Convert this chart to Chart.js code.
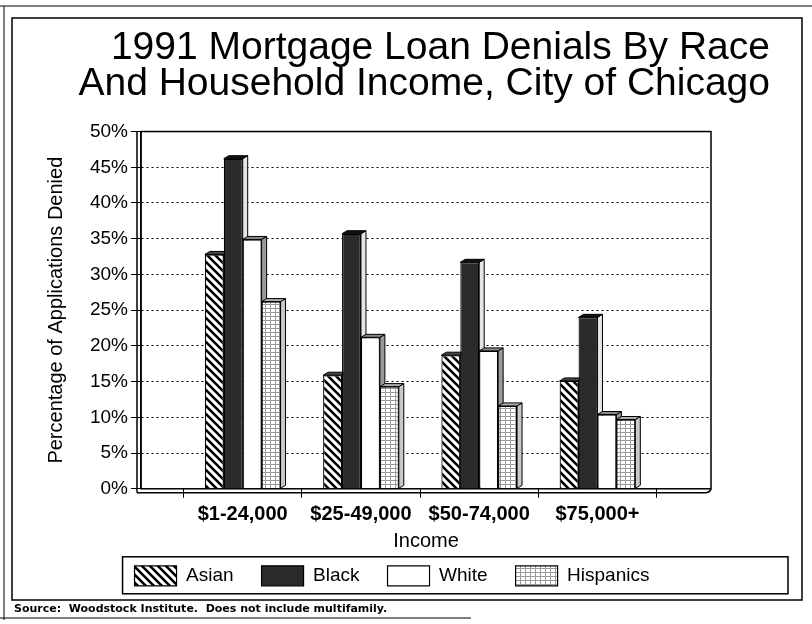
<!DOCTYPE html>
<html>
<head>
<meta charset="utf-8">
<script src="https://cdn.jsdelivr.net/npm/chart.js@4.4.1/dist/chart.umd.min.js"></script>
<style>
  html, body { margin: 0; padding: 0; background: #fff; }
  #wrap { width: 812px; height: 624px; }
</style>
</head>
<body>
<div id="wrap"><canvas id="chart"></canvas></div>
<script>
// Data
const incomeGroups = ["$1-24,000", "$25-49,000", "$50-74,000", "$75,000+"];
const asian = [32.8, 15.9, 18.7, 15.1];
const black = [46.2, 35.7, 31.7, 24.0];
const white = [34.9, 21.2, 19.3, 10.4];
const hispanics = [26.2, 14.3, 11.6, 9.7];
const pctTicks = [0, 5, 10, 15, 20, 25, 30, 35, 40, 45, 50];

// Fill patterns
function makePattern(w, h, draw) {
  const c = document.createElement("canvas");
  c.width = w;
  c.height = h;
  const g = c.getContext("2d");
  draw(g, w, h);
  return g.createPattern(c, "repeat");
}

const hatch = makePattern(8, 8, (g) => {
  g.fillStyle = "#fff";
  g.fillRect(0, 0, 8, 8);
  g.strokeStyle = "#000";
  g.lineWidth = 2.6;
  g.beginPath();
  g.moveTo(-2, -2); g.lineTo(10, 10);
  g.moveTo(-2, 6); g.lineTo(2, 10);
  g.moveTo(6, -2); g.lineTo(10, 2);
  g.stroke();
});

const gridFill = makePattern(5, 4, (g) => {
  g.fillStyle = "#fff";
  g.fillRect(0, 0, 5, 4);
  g.fillStyle = "#9a9a9a";
  g.fillRect(0, 0, 5, 1);
  g.fillRect(0, 0, 1, 4);
});

// 3D look of the bars: side + top faces, then the floor and frame
const DX = 5, DY = 3;
const sideFill = ["#666", "#e6e6e6", "#9a9a9a", "#c8c8c8"];
const topFill = ["#444", "#111", "#8a8a8a", "#b0b0b0"];

const bars3d = {
  id: "bars3d",
  beforeDatasetsDraw(chart) {
    const ctx = chart.ctx;
    ctx.save();
    ctx.strokeStyle = "#000";
    ctx.lineWidth = 1;
    chart.data.datasets.forEach((ds, i) => {
      chart.getDatasetMeta(i).data.forEach((bar) => {
        const { x, y, base, width } = bar.getProps(["x", "y", "base", "width"], true);
        const l = x - width / 2, r = x + width / 2;
        ctx.beginPath();
        ctx.moveTo(r, base);
        ctx.lineTo(r + DX, base - DY);
        ctx.lineTo(r + DX, y - DY);
        ctx.lineTo(r, y);
        ctx.closePath();
        ctx.fillStyle = sideFill[i];
        ctx.fill();
        ctx.stroke();
        ctx.beginPath();
        ctx.moveTo(l, y);
        ctx.lineTo(l + DX, y - DY);
        ctx.lineTo(r + DX, y - DY);
        ctx.lineTo(r, y);
        ctx.closePath();
        ctx.fillStyle = topFill[i];
        ctx.fill();
        ctx.stroke();
      });
    });
    ctx.restore();
  },
  afterDraw(chart) {
    const { ctx, chartArea: a, width, height } = chart;
    ctx.save();
    ctx.strokeStyle = "#000";
    // plot frame
    ctx.lineWidth = 1.5;
    ctx.strokeRect(a.left, a.top, a.right - a.left, a.bottom - a.top);
    ctx.beginPath();
    ctx.moveTo(a.left - 4, a.top);
    ctx.lineTo(a.left - 4, a.bottom + 4);
    ctx.stroke();
    // floor
    ctx.beginPath();
    ctx.moveTo(a.left - 4, a.bottom + 4);
    ctx.lineTo(a.right - 6, a.bottom + 4);
    ctx.quadraticCurveTo(a.right - 1, a.bottom + 4, a.right, a.bottom);
    ctx.stroke();
    // legend box
    const hb = chart.legend.legendHitBoxes;
    if (hb && hb.length) {
      const top = hb[0].top - 9, bottom = hb[0].top + hb[0].height + 8;
      ctx.lineWidth = 1.5;
      ctx.strokeRect(hb[0].left - 12, top, width - 24 - (hb[0].left - 12), bottom - top);
    }
    // outer page frame
    ctx.lineWidth = 1.5;
    ctx.strokeRect(12, 18, width - 22, height - 42);
    ctx.lineWidth = 1;
    ctx.beginPath();
    ctx.moveTo(0, 6); ctx.lineTo(width, 6);
    ctx.moveTo(4, 6); ctx.lineTo(4, height - 4);
    ctx.moveTo(0, height - 6); ctx.lineTo(width * 0.58, height - 6);
    ctx.stroke();
    ctx.restore();
  },
};

const ctx = document.getElementById("chart");
new Chart(ctx, {
  type: "bar",
  data: {
    labels: incomeGroups,
    datasets: [
      { label: "Asian", data: asian, backgroundColor: hatch },
      { label: "Black", data: black, backgroundColor: "#2a2a2a" },
      { label: "White", data: white, backgroundColor: "#fff" },
      { label: "Hispanics", data: hispanics, backgroundColor: gridFill },
    ].map((d) => ({
      ...d,
      borderColor: "#000",
      borderWidth: 1.2,
      categoryPercentage: 0.64,
      barPercentage: 1.0,
    })),
  },
  options: {
    responsive: true,
    maintainAspectRatio: false,
    animation: false,
    layout: { padding: { left: 14, right: 42, top: 20, bottom: 6 } },
    plugins: {
      title: {
        display: true,
        text: ["1991 Mortgage Loan Denials By Race", "And Household Income, City of Chicago"],
        align: "end",
        color: "#000",
        font: { family: "Liberation Sans", size: 39, weight: "normal", lineHeight: 0.93 },
        padding: { top: 10, bottom: 29 },
      },
      subtitle: {
        display: true,
        position: "bottom",
        align: "start",
        text: "Source:  Woodstock Institute.  Does not include multifamily.",
        color: "#000",
        font: { family: "DejaVu Sans", size: 11, weight: "bold" },
        padding: { top: 7, bottom: 2 },
      },
      legend: {
        position: "bottom",
        // empty title with negative padding pulls the row up, so the
        // wide horizontal spacing does not add height
        title: { display: true, text: "", font: { size: 1, lineHeight: 1 }, padding: { top: -8, bottom: -8 } },
        labels: {
          color: "#000",
          boxWidth: 42,
          boxHeight: 20,
          padding: 28,
          font: { family: "Liberation Sans", size: 19 },
        },
      },
      tooltip: { enabled: false },
    },
    scales: {
      x: {
        offset: true,
        afterBuildTicks(scale) {
          // leave extra room on both sides of the groups like the original
          scale._startValue = -0.86;
          scale._valueRange = 4.82;
        },
        grid: {
          display: true,
          offset: true,
          drawOnChartArea: false,
          drawTicks: true,
          tickLength: 9,
          color: "#000",
        },
        border: { display: false },
        ticks: {
          color: "#000",
          padding: 7,
          font: { family: "Liberation Sans", size: 20, weight: "bold", lineHeight: 1.0 },
        },
        title: {
          display: true,
          text: "Income",
          color: "#000",
          font: { family: "Liberation Sans", size: 20, lineHeight: 1.0 },
          padding: { top: 0, bottom: 1 },
        },
      },
      y: {
        min: 0,
        max: 50,
        afterBuildTicks(scale) {
          scale.ticks = pctTicks.map((v) => ({ value: v }));
        },
        afterFit(scale) {
          scale.width = 127;
        },
        grid: {
          color: "#000",
          lineWidth: 1,
          drawTicks: true,
          tickLength: 10,
          tickBorderDash: [],
        },
        border: { display: true, color: "#000", width: 1.5, dash: [2, 3] },
        ticks: {
          color: "#000",
          padding: 3,
          font: { family: "Liberation Sans", size: 19 },
          callback: (v) => v + "%",
        },
        title: {
          display: true,
          text: "Percentage of Applications Denied",
          color: "#000",
          font: { family: "Liberation Sans", size: 20 },
          padding: { top: 30, bottom: 0 },
        },
      },
      yr: {
        position: "right",
        display: true,
        grid: { display: false },
        border: { display: false },
        ticks: { display: false },
        afterFit(scale) {
          scale.width = 59;
        },
      },
    },
  },
  plugins: [bars3d],
});
</script>
</body>
</html>
